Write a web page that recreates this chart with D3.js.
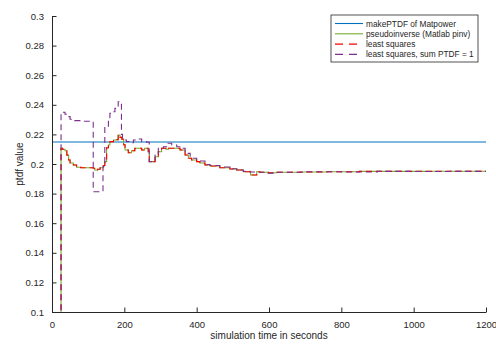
<!DOCTYPE html>
<html>
<head>
<meta charset="utf-8">
<script src="https://cdn.jsdelivr.net/npm/d3@7"></script>
<style>
  body { margin: 0; background: #fff; }
  text { font-family: "Liberation Sans", Arial, sans-serif; fill: #262626; }
</style>
</head>
<body>
<div id="chart"></div>
<script>
// reference PTDF from makePTDF (constant)
const makePtdfTimes = [0, 1200];
const makePtdfValues = [0.2149, 0.2149];

// pseudoinverse (Matlab pinv) estimate
const pinvTimes = [24, 25, 29, 36, 41, 46, 50, 59, 68, 80, 114, 118, 126, 133, 142, 146, 151, 156, 160, 170, 178, 183, 188, 193, 198, 202, 211, 220, 229, 240, 248, 256, 266, 269, 276, 285, 294, 303, 315, 322, 340, 354, 368, 377, 386, 400, 409, 423, 437, 464, 492, 511, 529, 549, 566, 575, 598, 621, 686, 760, 850, 950, 1050, 1150, 1200];
const pinvValues = [0.0, 0.2106, 0.2100, 0.2090, 0.2060, 0.2027, 0.2007, 0.1993, 0.1978, 0.1975, 0.1971, 0.1959, 0.1965, 0.1975, 0.1990, 0.2016, 0.2110, 0.2128, 0.2151, 0.2162, 0.2165, 0.2196, 0.2180, 0.2167, 0.2130, 0.2095, 0.2076, 0.2090, 0.2106, 0.2106, 0.2095, 0.2106, 0.2083, 0.2016, 0.2016, 0.2049, 0.2083, 0.2106, 0.2100, 0.2106, 0.2106, 0.2095, 0.2061, 0.2039, 0.2027, 0.2016, 0.2007, 0.1993, 0.1986, 0.1975, 0.1966, 0.1959, 0.1948, 0.1926, 0.1948, 0.1944, 0.1941, 0.1944, 0.1946, 0.1948, 0.1950, 0.1950, 0.1951, 0.1951, 0.1951];

// least squares estimate
const lsqTimes = [24, 25, 29, 36, 41, 46, 50, 59, 68, 80, 114, 118, 126, 133, 142, 146, 151, 156, 160, 170, 178, 183, 188, 193, 198, 202, 211, 220, 229, 240, 248, 256, 266, 269, 276, 285, 294, 303, 315, 322, 340, 354, 368, 377, 386, 400, 409, 423, 437, 464, 492, 511, 529, 549, 566, 575, 598, 621, 686, 760, 850, 950, 1050, 1150, 1200];
const lsqValues = [0.0, 0.2106, 0.2100, 0.2090, 0.2060, 0.2027, 0.2007, 0.1993, 0.1978, 0.1975, 0.1971, 0.1959, 0.1965, 0.1975, 0.1990, 0.2016, 0.2110, 0.2128, 0.2151, 0.2162, 0.2165, 0.2196, 0.2180, 0.2167, 0.2130, 0.2095, 0.2076, 0.2090, 0.2106, 0.2106, 0.2095, 0.2106, 0.2083, 0.2016, 0.2016, 0.2049, 0.2083, 0.2106, 0.2100, 0.2106, 0.2106, 0.2095, 0.2061, 0.2039, 0.2027, 0.2016, 0.2007, 0.1993, 0.1986, 0.1975, 0.1966, 0.1959, 0.1948, 0.1926, 0.1948, 0.1944, 0.1941, 0.1944, 0.1946, 0.1948, 0.1950, 0.1950, 0.1951, 0.1951, 0.1951];

// least squares with sum PTDF = 1
const lsqSumTimes = [24, 25, 29, 36, 45, 50, 63, 86, 114, 133, 141, 146, 156, 160, 170, 174, 183, 188, 192, 195, 206, 216, 225, 239, 248, 262, 269, 276, 285, 294, 308, 321, 331, 345, 359, 368, 382, 400, 423, 437, 464, 492, 511, 529, 547, 566, 598, 621, 700, 800, 900, 1000, 1100, 1200];
const lsqSumValues = [0.0, 0.2343, 0.2350, 0.2336, 0.2320, 0.2302, 0.2293, 0.2289, 0.1813, 0.1813, 0.1982, 0.2252, 0.2309, 0.2343, 0.2353, 0.2376, 0.2421, 0.2410, 0.2200, 0.2162, 0.2151, 0.2144, 0.2162, 0.2169, 0.2151, 0.2147, 0.2016, 0.2027, 0.2061, 0.2106, 0.2117, 0.2140, 0.2128, 0.2117, 0.2106, 0.2072, 0.2039, 0.2020, 0.1997, 0.1990, 0.1980, 0.1968, 0.1959, 0.1950, 0.1946, 0.1944, 0.1937, 0.1944, 0.1948, 0.1946, 0.1950, 0.1949, 0.1950, 0.1950];

const xTicks = [0, 200, 400, 600, 800, 1000, 1200];
const yTicks = [0.1, 0.12, 0.14, 0.16, 0.18, 0.2, 0.22, 0.24, 0.26, 0.28, 0.3];

const legendLabels = ["makePTDF of Matpower", "pseudoinverse (Matlab pinv)", "least squares", "least squares, sum PTDF = 1"];

const width = 496, height = 349;
const margin = { top: 16, right: 10, bottom: 37, left: 52 };
const plotW = width - margin.left - margin.right;
const plotH = height - margin.top - margin.bottom;

const svg = d3.select("#chart").append("svg")
  .attr("width", width).attr("height", height);

const g = svg.append("g")
  .attr("transform", `translate(${margin.left},${margin.top})`);

const x = d3.scaleLinear().domain([0, 1200]).range([0, plotW]);
const y = d3.scaleLinear().domain([0.1, 0.3]).range([plotH, 0]);

g.append("clipPath").attr("id", "clip")
  .append("rect").attr("width", plotW).attr("height", plotH);

const series = [
  { times: makePtdfTimes, values: makePtdfValues, color: "#0072BD", dash: null },
  { times: pinvTimes, values: pinvValues, color: "#77AC30", dash: null },
  { times: lsqTimes, values: lsqValues, color: "#FF0000", dash: "6,4" },
  { times: lsqSumTimes, values: lsqSumValues, color: "#7E2F8E", dash: "6,4" }
];

const line = d3.line()
  .x(d => x(d[0]))
  .y(d => y(d[1]))
  .curve(d3.curveStepAfter);

const plot = g.append("g").attr("clip-path", "url(#clip)");
series.forEach(s => {
  plot.append("path")
    .datum(d3.zip(s.times, s.values))
    .attr("fill", "none")
    .attr("stroke", s.color)
    .attr("stroke-width", 1.1)
    .attr("stroke-dasharray", s.dash)
    .attr("d", line);
});

// axes, ticks inward
const xAxis = g.append("g")
  .attr("transform", `translate(0,${plotH})`)
  .call(d3.axisBottom(x).tickValues(xTicks).tickFormat(d3.format("d")).tickSize(-4.5).tickPadding(9).tickSizeOuter(0));
const yAxis = g.append("g")
  .call(d3.axisLeft(y).tickValues(yTicks).tickFormat(d3.format("~g")).tickSize(-4.5).tickPadding(8).tickSizeOuter(0));

[xAxis, yAxis].forEach(a => {
  a.select(".domain").attr("stroke", "#262626");
  a.selectAll(".tick line").attr("stroke", "#262626");
  a.selectAll(".tick text")
    .style("font-family", "'Liberation Sans', Arial, sans-serif")
    .style("font-size", "9.5px")
    .attr("fill", "#262626");
});

g.append("text")
  .attr("x", plotW / 2).attr("y", plotH + 27)
  .attr("text-anchor", "middle")
  .style("font-size", "10px")
  .text("simulation time in seconds");

g.append("text")
  .attr("transform", `translate(-29,${plotH / 2}) rotate(-90)`)
  .attr("text-anchor", "middle")
  .style("font-size", "10px")
  .text("ptdf value");

// legend
const legend = svg.append("g").attr("transform", "translate(331,15)");
legend.append("rect")
  .attr("width", 147).attr("height", 47)
  .attr("fill", "#fff").attr("stroke", "#262626").attr("stroke-width", 0.8);
legendLabels.forEach((label, i) => {
  const ly = 8.5 + i * 10.3;
  legend.append("line")
    .attr("x1", 4).attr("x2", 32).attr("y1", ly).attr("y2", ly)
    .attr("stroke", series[i].color).attr("stroke-width", 1.1)
    .attr("stroke-dasharray", series[i].dash ? "8,6" : null);
  legend.append("text")
    .attr("x", 35).attr("y", ly + 3)
    .style("font-size", "8.3px")
    .text(label);
});
</script>
</body>
</html>
